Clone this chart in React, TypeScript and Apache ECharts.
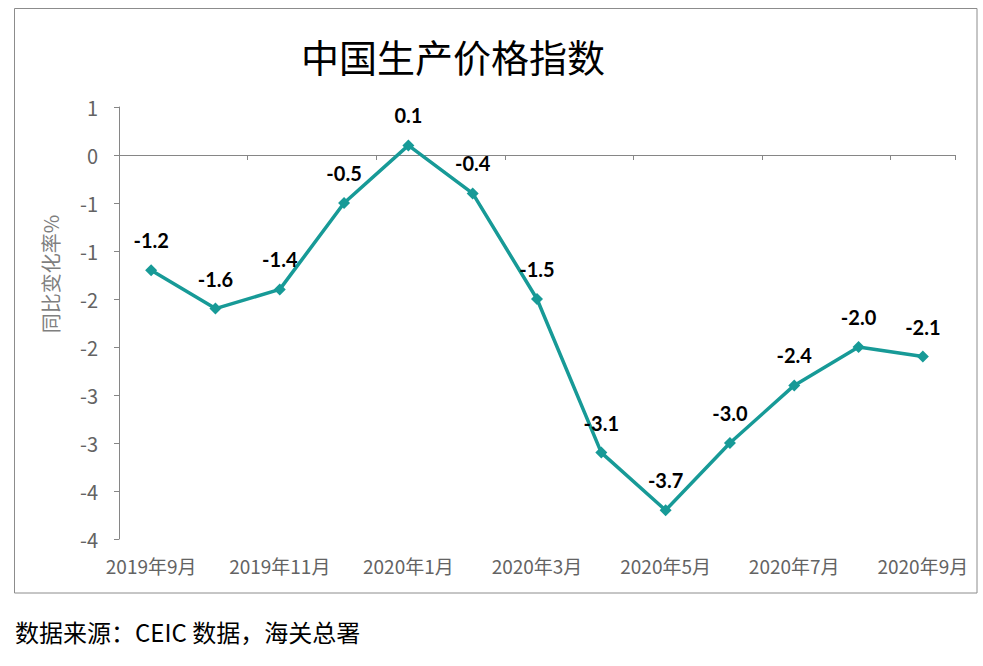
import React, { useEffect, useRef } from "react";
import * as echarts from "echarts";

const categories = [
  "2019年9月", "2019年10月", "2019年11月", "2019年12月", "2020年1月", "2020年2月",
  "2020年3月", "2020年4月", "2020年5月", "2020年6月", "2020年7月", "2020年8月", "2020年9月",
];
const ppiValues = [-1.2, -1.6, -1.4, -0.5, 0.1, -0.4, -1.5, -3.1, -3.7, -3.0, -2.4, -2.0, -2.1];
const yMin = -4;
const yMax = 0.5;
const yStep = 0.5;

const titleText = "中国生产价格指数";
const yAxisName = "同比变化率%";
const sourceText = "数据来源：CEIC 数据，海关总署";

const TEAL = "#179A97";
const AXIS_GRAY = "#868686";
const LABEL_GRAY = "#636363";
const CJK = "'Noto Sans CJK SC', 'Noto Sans', sans-serif";

export default function App() {
  const ref = useRef<HTMLDivElement>(null);
  useEffect(() => {
    if (!ref.current) return;
    const chart = echarts.init(ref.current, null, { renderer: "svg" });
    chart.setOption({
      animation: false,
      backgroundColor: "#ffffff",
      grid: { left: 119, right: 28, top: 107, bottom: 127, containLabel: false },
      graphic: [
        {
          type: "rect",
          shape: { x: 14.5, y: 8.5, width: 962.5, height: 584.5 },
          style: { fill: "none", stroke: "#8C8C8C", lineWidth: 1 },
          silent: true,
        },
        {
          type: "text",
          x: 453,
          y: 55,
          style: {
            text: titleText,
            font: `normal 38px ${CJK}`,
            fill: "#000000",
            textAlign: "center",
            textVerticalAlign: "middle",
          },
        },
        {
          type: "text",
          x: 50,
          y: 274,
          rotation: Math.PI / 2,
          style: {
            text: yAxisName,
            font: `normal 20px ${CJK}`,
            fill: "#7F7F7F",
            textAlign: "center",
            textVerticalAlign: "middle",
          },
        },
        {
          type: "text",
          x: 15,
          y: 631,
          style: {
            text: sourceText,
            font: `normal 24px ${CJK}`,
            fill: "#000000",
            textAlign: "left",
            textVerticalAlign: "middle",
          },
        },
      ],
      xAxis: [
        {
          type: "category",
          data: categories,
          position: "bottom",
          boundaryGap: true,
          axisLine: { show: false, onZero: false },
          axisTick: { show: false },
          axisLabel: {
            interval: 1,
            color: LABEL_GRAY,
            fontSize: 19,
            fontFamily: CJK,
            margin: 17,
          },
        },
        {
          type: "category",
          data: categories,
          position: "top",
          boundaryGap: true,
          axisLine: { show: true, onZero: true, lineStyle: { color: AXIS_GRAY, width: 1 } },
          axisTick: { show: true, inside: true, interval: 1, length: 5, lineStyle: { color: AXIS_GRAY } },
          axisLabel: { show: false },
        },
      ],
      yAxis: {
        type: "value",
        min: yMin,
        max: yMax,
        interval: yStep,
        splitLine: { show: false },
        axisLine: { show: true, lineStyle: { color: AXIS_GRAY, width: 1 } },
        axisTick: { show: true, length: 5, lineStyle: { color: AXIS_GRAY } },
        axisLabel: {
          color: LABEL_GRAY,
          fontSize: 20,
          fontFamily: CJK,
          margin: 21,
          formatter: (v: number) => {
            const r = Math.sign(v) * Math.round(Math.abs(v));
            return r === 0 ? "0" : String(r);
          },
        },
      },
      series: [
        {
          type: "line",
          data: ppiValues,
          xAxisIndex: 0,
          symbol: "diamond",
          symbolSize: 12,
          lineStyle: { color: TEAL, width: 3.5 },
          itemStyle: { color: TEAL },
          label: {
            show: true,
            position: "top",
            distance: 14,
            color: "#000000",
            fontSize: 20,
            fontWeight: "bold",
            fontFamily: "Lato, 'Open Sans', sans-serif",
            formatter: (p: any) => Number(p.value).toFixed(1),
          },
        },
      ],
    });
    return () => chart.dispose();
  }, []);
  return (
    <div
      ref={ref}
      style={{ position: "fixed", left: 0, top: 0, width: 983, height: 666 }}
    />
  );
}
